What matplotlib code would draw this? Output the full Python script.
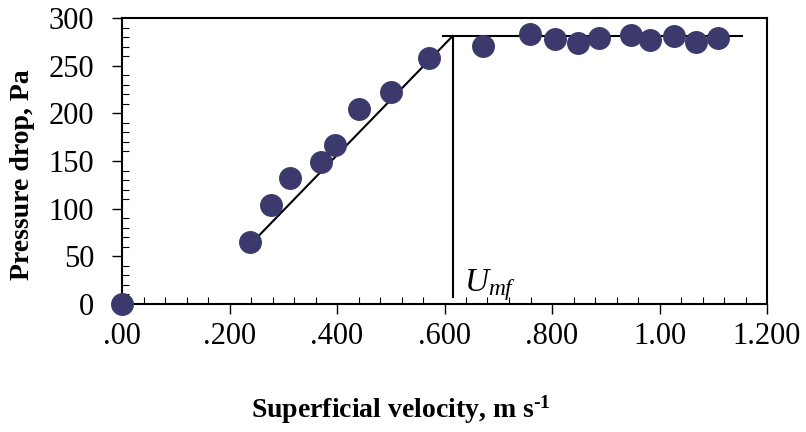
import matplotlib.pyplot as plt
from matplotlib.ticker import MultipleLocator

plt.rcParams['font.family'] = ['Liberation Serif', 'DejaVu Serif']
plt.rcParams['mathtext.fontset'] = 'custom'
plt.rcParams['mathtext.rm'] = 'Liberation Serif'
plt.rcParams['mathtext.it'] = 'Liberation Serif:italic'
plt.rcParams['mathtext.bf'] = 'Liberation Serif:bold'

# measured points
velocity = [0.0, 0.238, 0.277, 0.313, 0.370, 0.396, 0.441, 0.500, 0.571, 0.672,
            0.759, 0.806, 0.848, 0.887, 0.947, 0.982, 1.027, 1.068, 1.109]
pressure_drop = [0, 65, 104, 132, 149, 167, 205, 222, 258, 271,
                 283, 278, 274, 279, 282, 277, 281, 275, 279]

# fitted lines
fixed_x = [0.25, 0.615]
fixed_y = [69, 281]
fluid_x = [0.597, 1.153]
fluid_y = [281, 281]
umf_x = [0.615, 0.615]
umf_y = [281, 7]

xticks = [0.0, 0.2, 0.4, 0.6, 0.8, 1.0, 1.2]
xticklabels = ['.00', '.200', '.400', '.600', '.800', '1.00', '1.200']
yticks = [0, 50, 100, 150, 200, 250, 300]

fig = plt.figure(figsize=(8.06, 4.32), dpi=100)
ax = fig.add_axes([122/806, 1-304/432, (767-122)/806, (304-18)/432])

ax.plot(fixed_x, fixed_y, color='black', lw=1.5, zorder=2)
ax.plot(fluid_x, fluid_y, color='black', lw=1.5, zorder=2)
ax.plot(umf_x, umf_y, color='black', lw=1.5, zorder=2)
ax.plot(velocity, pressure_drop, 'o', ms=15.5, color='#3c3a6c',
        mec='#3c3a6c', clip_on=False, zorder=4)

ax.text(0.636, 13, r'$U_{mf}$', fontsize=24)

ax.set_xlim(0, 1.2)
ax.set_ylim(0, 300)
ax.set_xticks(xticks)
ax.set_xticklabels(xticklabels)
ax.set_yticks(yticks)
ax.xaxis.set_minor_locator(MultipleLocator(0.04))
ax.yaxis.set_minor_locator(MultipleLocator(10))

for s in ax.spines.values():
    s.set_linewidth(1.5)

ax.tick_params(which='major', direction='out', length=7, width=1.0,
               labelsize=22, top=False, right=False)
ax.tick_params(axis='y', which='major', pad=13)
ax.tick_params(axis='x', which='major', pad=6)
ax.tick_params(which='minor', direction='in', length=5, width=0.8,
               top=False, right=False)

fig.text(23/806, 1-175/432, 'Pressure drop, Pa', rotation=90, fontsize=20,
         fontweight='bold', ha='center', va='center')
fig.text(401/806, 1-410/432, 'Superficial velocity, m s$^{\\mathbf{\u20101}}$',
         fontsize=20, fontweight='bold', ha='center', va='center')

fig.savefig('out.png', dpi=100)
